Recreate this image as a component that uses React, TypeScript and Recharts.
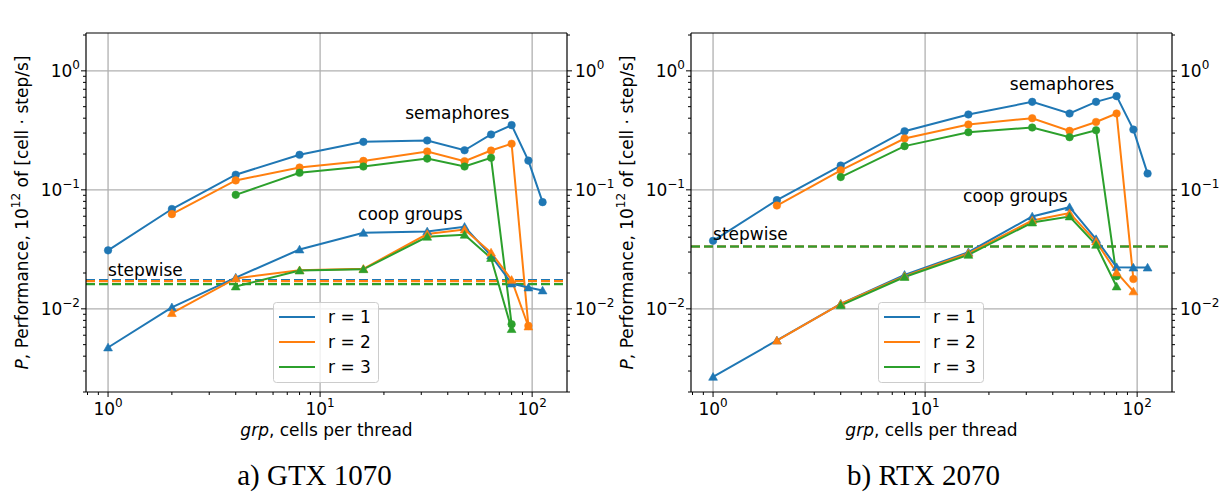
import React from 'react';
import { LineChart, Line, XAxis, YAxis, ReferenceLine, ReferenceDot } from 'recharts';

// cells per thread (x values shared by every series)
const grp = [1, 2, 4, 8, 16, 32, 48, 64, 80, 96, 112];

// GTX 1070
const gtxSemR1 = [0.031, 0.069, 0.134, 0.197, 0.253, 0.26, 0.215, 0.292, 0.35, 0.176, 0.0788];
const gtxSemR2 = [null, 0.0625, 0.12, 0.154, 0.175, 0.21, 0.174, 0.214, 0.244, 0.0072, null];
const gtxSemR3 = [null, null, 0.0908, 0.139, 0.157, 0.183, 0.157, 0.186, 0.00743, null, null];
const gtxCoopR1 = [0.00473, 0.0103, 0.0183, 0.0315, 0.0435, 0.0447, 0.0489, 0.028, 0.0163, 0.0151, 0.01426];
const gtxCoopR2 = [null, 0.0092, 0.018, 0.0211, 0.0217, 0.0425, 0.0464, 0.0297, 0.0175, 0.0071, null];
const gtxCoopR3 = [null, null, 0.0154, 0.021, 0.0215, 0.0403, 0.0419, 0.0267, 0.00675, null, null];
const gtxStepwise = [0.01745, 0.0171, 0.0161];

// RTX 2070
const rtxSemR1 = [0.0373, 0.0819, 0.16, 0.311, 0.43, 0.549, 0.438, 0.549, 0.613, 0.321, 0.137];
const rtxSemR2 = [null, 0.0738, 0.146, 0.27, 0.354, 0.4, 0.313, 0.372, 0.438, 0.0178, null];
const rtxSemR3 = [null, null, 0.128, 0.233, 0.305, 0.334, 0.277, 0.317, 0.0188, null, null];
const rtxCoopR1 = [0.00268, 0.00542, 0.011, 0.0193, 0.0299, 0.0597, 0.0715, 0.0385, 0.0224, 0.0222, 0.0222];
const rtxCoopR2 = [null, 0.0054, 0.011, 0.0188, 0.0293, 0.0552, 0.0637, 0.0368, 0.0202, 0.014, null];
const rtxCoopR3 = [null, null, 0.0107, 0.0185, 0.0284, 0.0531, 0.0597, 0.0345, 0.0154, null, null];
const rtxStepwise = [0.0334, 0.0334, 0.0334];

const rLabels = ['r = 1', 'r = 2', 'r = 3'];
const colors = ['#1f77b4', '#ff7f0e', '#2ca02c'];

const xTicks = [0.8, 0.9, 1, 2, 3, 4, 5, 6, 7, 8, 9, 10, 20, 30, 40, 50, 60, 70, 80, 90, 100];
const yTicks = [
  0.002, 0.003, 0.004, 0.005, 0.006, 0.007, 0.008, 0.009,
  0.01, 0.02, 0.03, 0.04, 0.05, 0.06, 0.07, 0.08, 0.09,
  0.1, 0.2, 0.3, 0.4, 0.5, 0.6, 0.7, 0.8, 0.9, 1, 2,
];
const xMajor = [1, 10, 100];
const yMajor = [0.01, 0.1, 1];
const xDomain = [0.787, 146];
const yDomain = [0.002, 2.08];

const gtxNotes = [
  { text: 'semaphores', x: 25.2, y: 0.394 },
  { text: 'coop groups', x: 15.1, y: 0.056 },
  { text: 'stepwise', x: 1.0, y: 0.0189 },
];
const rtxNotes = [
  { text: 'semaphores', x: 25.1, y: 0.692 },
  { text: 'coop groups', x: 15.1, y: 0.0797 },
  { text: 'stepwise', x: 1.0, y: 0.038 },
];

const FONT = '"DejaVu Sans", sans-serif';
const FS = 17;

const isMajor = (v: number) => Math.abs(Math.log10(v) - Math.round(Math.log10(v))) < 1e-9;
const expText = (v: number) => {
  const e = Math.round(Math.log10(v));
  return e < 0 ? `\u2212${-e}` : `${e}`;
};

const XTick = ({ x, y, payload, side }: any) => {
  const v = payload.value;
  const major = isMajor(v);
  const d = side === 'top' ? -1 : 1;
  return (
    <g>
      <line x1={x} x2={x} y1={y} y2={y + d * (major ? 5 : 3)} stroke="#000" strokeWidth={1} />
      {major && (
        <text x={x} y={side === 'top' ? y - 11 : y + 23} textAnchor="middle" fontFamily={FONT} fontSize={FS} fill="#000">
          10<tspan dy={-8} fontSize={12}>{expText(v)}</tspan>
        </text>
      )}
    </g>
  );
};

const YTick = ({ x, y, payload, side }: any) => {
  const v = payload.value;
  const major = isMajor(v);
  const d = side === 'left' ? -1 : 1;
  return (
    <g>
      <line x1={x} x2={x + d * (major ? 5 : 3)} y1={y} y2={y} stroke="#000" strokeWidth={1} />
      {major && (
        <text
          x={side === 'left' ? x - 6 : x + 8}
          y={y + 6}
          textAnchor={side === 'left' ? 'end' : 'start'}
          fontFamily={FONT}
          fontSize={FS}
          fill="#000"
        >
          10<tspan dy={-8} fontSize={12}>{expText(v)}</tspan>
        </text>
      )}
    </g>
  );
};

const YLabel = (props: any) => {
  const vb = props.viewBox || { x: 0, y: 33, width: 86, height: 359 };
  const cx = vb.x + 28;
  const cy = vb.y + vb.height / 2;
  return (
    <text transform={`translate(${cx},${cy}) rotate(-90)`} textAnchor="middle" fontFamily={FONT} fontSize={FS} fill="#000">
      <tspan fontStyle="italic">P</tspan>
      {', Performance, 10'}
      <tspan dy={-8} fontSize={12}>12</tspan>
      <tspan dy={8}>{' of [cell \u00b7 step/s]'}</tspan>
    </text>
  );
};

const XLabel = (props: any) => {
  const vb = props.viewBox || { x: 86, y: 392, width: 481, height: 48 };
  return (
    <text x={vb.x + vb.width / 2} y={vb.y + 44} textAnchor="middle" fontFamily={FONT} fontSize={FS} fill="#000">
      <tspan fontStyle="italic">grp</tspan>
      {', cells per thread'}
    </text>
  );
};

const triangleDot = (color: string) => (p: any) => {
  const { cx, cy, index } = p;
  if (typeof cx !== 'number' || typeof cy !== 'number' || p.value == null) return <g key={`t${index}`} />;
  return (
    <polygon
      key={`t${index}`}
      points={`${cx},${cy - 4.3} ${cx - 4.4},${cy + 3.4} ${cx + 4.4},${cy + 3.4}`}
      fill={color}
      stroke={color}
      strokeWidth={0.6}
    />
  );
};

const PanelLegend = () => (
  <svg style={{ position: 'absolute', left: 0, top: 0, overflow: 'visible', pointerEvents: 'none' }} width={626} height={440}>
    <rect x={273.5} y={302.5} width={105} height={80} rx={3} fill="#fff" fillOpacity={0.8} stroke="#cccccc" strokeWidth={1} />
    {rLabels.map((r, i) => (
      <g key={r}>
        <line x1={279} x2={315} y1={317 + i * 25} y2={317 + i * 25} stroke={colors[i]} strokeWidth={2} />
        <text x={328} y={323 + i * 25} fontFamily={FONT} fontSize={FS} fill="#000">{r}</text>
      </g>
    ))}
  </svg>
);

type PanelProps = {
  left: number;
  sem: (number | null)[][];
  coop: (number | null)[][];
  stepwise: number[];
  notes: { text: string; x: number; y: number }[];
};

const Panel = ({ left, sem, coop, stepwise, notes }: PanelProps) => {
  const rows = grp.map((g, i) => ({
    grp: g,
    s0: sem[0][i], s1: sem[1][i], s2: sem[2][i],
    c0: coop[0][i], c1: coop[1][i], c2: coop[2][i],
  }));
  const axisLine = { stroke: '#000', strokeWidth: 1.2 };
  return (
    <div style={{ position: 'absolute', left, top: 0, width: 626, height: 440 }}>
      <LineChart width={626} height={440} data={rows} margin={{ top: 0, right: 0, bottom: 0, left: 0 }}>
        <XAxis
          dataKey="grp" type="number" scale="log" domain={xDomain} allowDataOverflow
          ticks={xTicks} interval={0} tickLine={false} tickSize={0} tickMargin={0}
          axisLine={axisLine} height={48}
          tick={(p: any) => <XTick {...p} side="bottom" />}
          label={(p: any) => <XLabel {...p} />}
        />
        <XAxis
          xAxisId="top" orientation="top" type="number" scale="log" domain={xDomain} allowDataOverflow
          ticks={xTicks} interval={0} tickLine={false} tickSize={0} tickMargin={0}
          axisLine={axisLine} height={33}
          tick={(p: any) => <XTick {...p} side="top" />}
        />
        <YAxis
          type="number" scale="log" domain={yDomain} allowDataOverflow
          ticks={yTicks} interval={0} tickLine={false} tickSize={0} tickMargin={0}
          axisLine={axisLine} width={86}
          tick={(p: any) => <YTick {...p} side="left" />}
          label={(p: any) => <YLabel {...p} />}
        />
        <YAxis
          yAxisId="right" orientation="right" type="number" scale="log" domain={yDomain} allowDataOverflow
          ticks={yTicks} interval={0} tickLine={false} tickSize={0} tickMargin={0}
          axisLine={axisLine} width={59}
          tick={(p: any) => <YTick {...p} side="right" />}
        />
        {xMajor.map((v) => (
          <ReferenceLine key={`gx${v}`} x={v} stroke="#b0b0b0" strokeWidth={1.3} />
        ))}
        {yMajor.map((v) => (
          <ReferenceLine key={`gy${v}`} y={v} stroke="#b0b0b0" strokeWidth={1.3} />
        ))}
        {stepwise.map((v, i) => (
          <ReferenceLine key={`st${i}`} y={v} stroke={colors[i]} strokeWidth={2.2} strokeDasharray="9 4" />
        ))}
        {[0, 1, 2].map((i) => (
          <Line
            key={`s${i}`} type="linear" dataKey={`s${i}`} stroke={colors[i]} strokeWidth={2}
            dot={{ r: 3.8, fill: colors[i], stroke: colors[i], strokeWidth: 0.5 }}
            activeDot={false} isAnimationActive={false}
          />
        ))}
        {[0, 1, 2].map((i) => (
          <Line
            key={`c${i}`} type="linear" dataKey={`c${i}`} stroke={colors[i]} strokeWidth={2}
            dot={triangleDot(colors[i])}
            activeDot={false} isAnimationActive={false}
          />
        ))}
        {notes.map((n) => (
          <ReferenceDot
            key={n.text} x={n.x} y={n.y} r={0} ifOverflow="visible"
            shape={(p: any) => (
              <text x={p.cx} y={p.cy} fontFamily={FONT} fontSize={FS} fill="#000">{n.text}</text>
            )}
          />
        ))}
      </LineChart>
      <PanelLegend />
    </div>
  );
};

export default function App() {
  return (
    <div style={{ position: 'absolute', left: 0, top: 0, width: 1231, height: 495, background: '#fff', overflow: 'hidden' }}>
      <Panel left={0} sem={[gtxSemR1, gtxSemR2, gtxSemR3]} coop={[gtxCoopR1, gtxCoopR2, gtxCoopR3]} stepwise={gtxStepwise} notes={gtxNotes} />
      <Panel left={605} sem={[rtxSemR1, rtxSemR2, rtxSemR3]} coop={[rtxCoopR1, rtxCoopR2, rtxCoopR3]} stepwise={rtxStepwise} notes={rtxNotes} />
      <svg style={{ position: 'absolute', left: 0, top: 0 }} width={1231} height={495}>
        <text x={314.5} y={485} textAnchor="middle" fontFamily='"Liberation Serif", serif' fontSize={29} fill="#000">a) GTX 1070</text>
        <text x={923.5} y={485} textAnchor="middle" fontFamily='"Liberation Serif", serif' fontSize={29} fill="#000">b) RTX 2070</text>
      </svg>
    </div>
  );
}
